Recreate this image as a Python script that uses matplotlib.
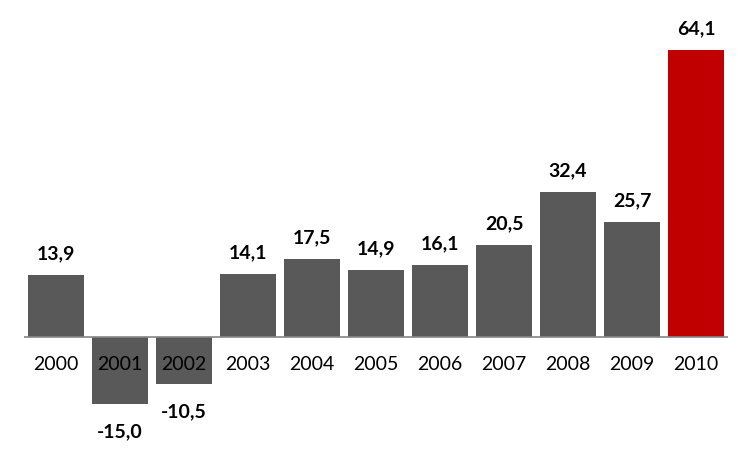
import matplotlib
matplotlib.use("Agg")
import matplotlib.pyplot as plt

years = ["2000", "2001", "2002", "2003", "2004", "2005",
         "2006", "2007", "2008", "2009", "2010"]
values = [13.9, -15.0, -10.5, 14.1, 17.5, 14.9, 16.1, 20.5, 32.4, 25.7, 64.1]

GRAY = "#595959"
RED = "#C00000"
colors = [GRAY] * (len(values) - 1) + [RED]

plt.rcParams["font.family"] = ["Lato", "DejaVu Sans"]

fig = plt.figure(figsize=(7.52, 4.52), dpi=100)
ax = fig.add_axes([24 / 752, 0, 704 / 752, 1])

x = list(range(len(values)))
ax.bar(x, values, width=0.875, color=colors, zorder=2)
ax.axhline(0, color="#868686", lw=1.2, zorder=3)

for xi, v in zip(x, values):
    lbl = f"{v:.1f}".replace(".", ",")
    off = 16 if v >= 0 else -19
    ax.annotate(lbl, (xi, v), xytext=(0, off), textcoords="offset points",
                ha="center", va="center", fontsize=14, fontweight="bold",
                color="black")
    ax.annotate(years[xi], (xi, 0), xytext=(0, -19), textcoords="offset points",
                ha="center", va="center", fontsize=14, color="black", zorder=4)

ax.set_xlim(-0.5, 10.5)
ax.set_ylim(-25.46, 75.5)
ax.axis("off")

fig.savefig("out.png", dpi=100)
